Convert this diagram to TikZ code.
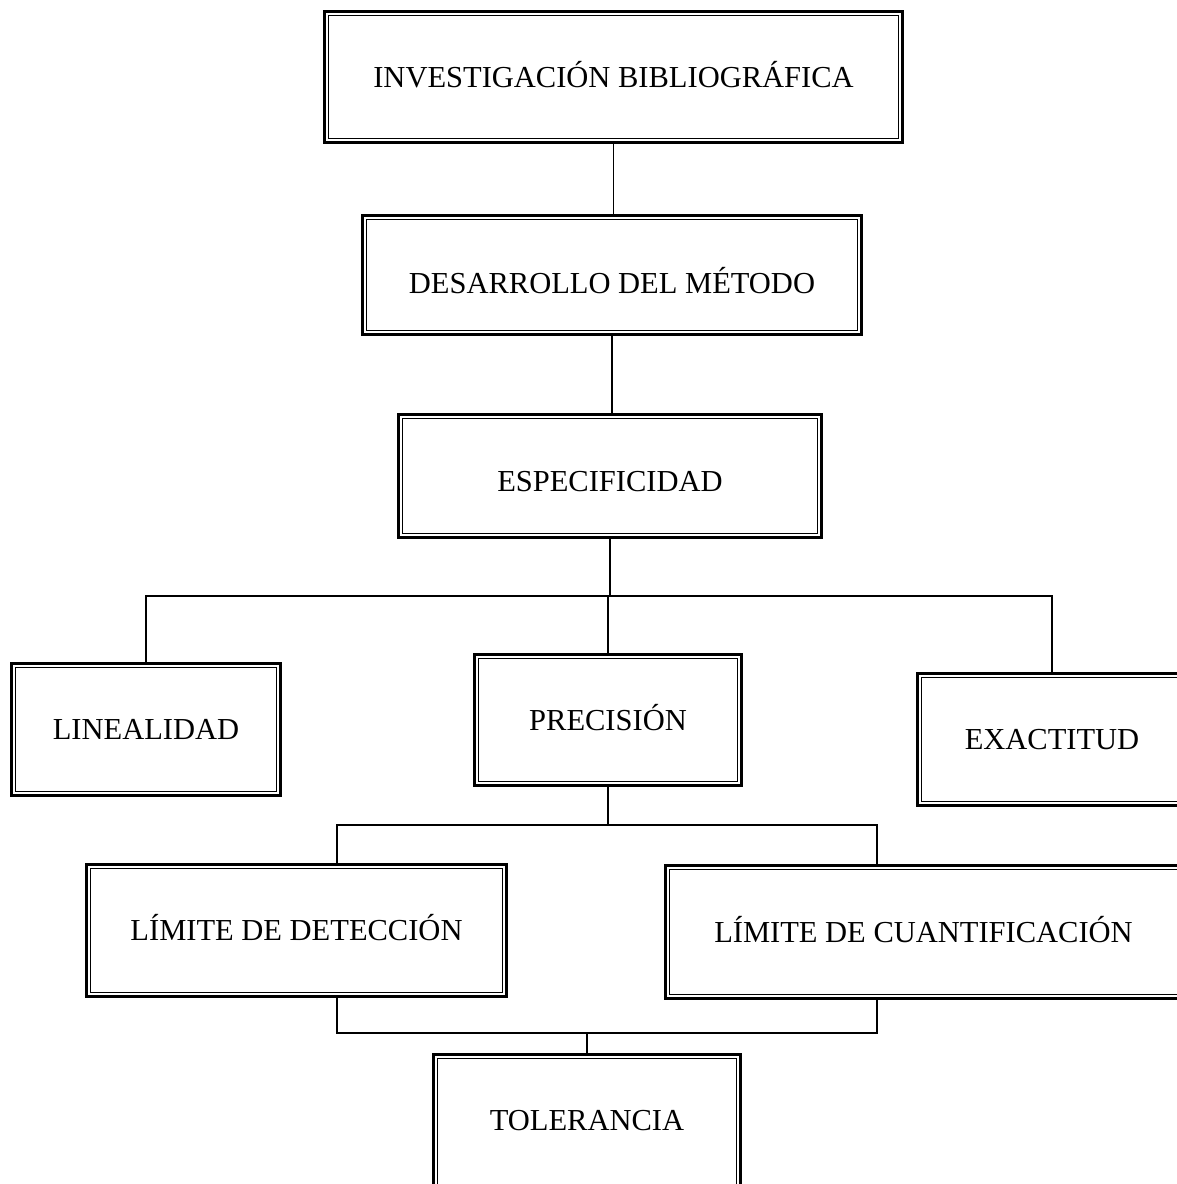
\documentclass[tikz,border=0pt]{standalone}
\usepackage{fontspec}
\setmainfont{Liberation Serif}
\begin{document}
\begin{tikzpicture}[x=1pt,y=-1pt,
  box/.style={draw=black, line width=2.8pt, fill=white, inner sep=0pt,
    font=\fontsize{30.5}{36}\selectfont, text height=20.2pt, text depth=0pt,
    path picture={\draw[line width=1.3pt]
      ([shift={(4pt,4pt)}]path picture bounding box.south west) rectangle
      ([shift={(-4pt,-4pt)}]path picture bounding box.north east);}},
  conn/.style={draw=black, line width=1.9pt}]
\useasboundingbox (0,0) rectangle (1177,1184);
\clip (0,0) rectangle (1177,1184);

\node[box, minimum width=578pt, minimum height=131pt] (inv) at (613.5,77) {INVESTIGACIÓN BIBLIOGRÁFICA};
\node[box, minimum width=499pt, minimum height=119pt, text height=36.2pt] (des) at (612,275) {DESARROLLO DEL MÉTODO};
\node[box, minimum width=423pt, minimum height=123pt, text height=30.2pt] (esp) at (610,476) {ESPECIFICIDAD};
\node[box, minimum width=269pt, minimum height=132pt] (lin) at (146,729.5) {LINEALIDAD};
\node[box, minimum width=267pt, minimum height=131pt] (pre) at (608,720) {PRECISIÓN};
\node[box, minimum width=269pt, minimum height=132pt] (exa) at (1052,739.5) {EXACTITUD};
\node[box, minimum width=420pt, minimum height=132pt] (ld) at (296.5,930.5) {LÍMITE DE DETECCIÓN};
\node[box, minimum width=516pt, minimum height=133pt] (lc) at (923.5,932) {LÍMITE DE CUANTIFICACIÓN};
\node[box, minimum width=307pt, minimum height=150pt, text depth=18pt] (tol) at (587,1129.4) {TOLERANCIA};

\coordinate (bus1) at (610,596);
\coordinate (bl) at (337,825);
\coordinate (br) at (877,825);
\coordinate (bl2) at (337,1033);
\coordinate (br2) at (877,1033);

\draw[conn] (inv.south) -- (inv.south |- des.north);
\draw[conn] (des.south) -- (des.south |- esp.north);
\draw[conn] (esp.south) -- (esp.south |- bus1);
\draw[conn] (lin.north) |- (bus1) -| (exa.north);
\draw[conn] (pre.north) -- (pre.north |- bus1);
\draw[conn] (pre.south) -- (pre.south |- bl);
\draw[conn] (bl |- ld.north) -- (bl) -- (br) -- (br |- lc.north);
\draw[conn] (bl |- ld.south) -- (bl2) -- (br2) -- (br2 |- lc.south);
\draw[conn] (tol.north) -- (tol.north |- bl2);
\end{tikzpicture}
\end{document}
